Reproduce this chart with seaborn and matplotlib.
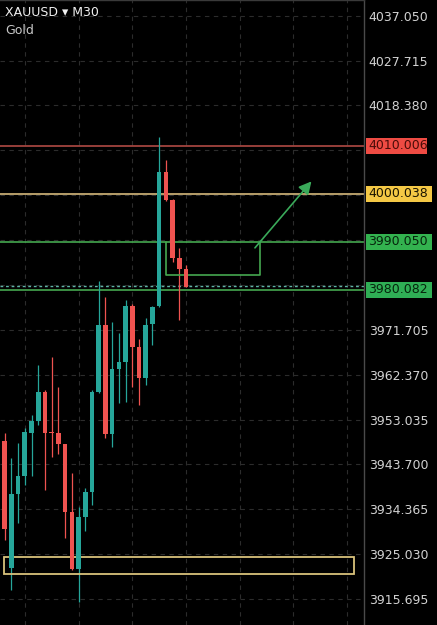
import matplotlib
matplotlib.use("Agg")
import matplotlib.pyplot as plt
import matplotlib.transforms as mtransforms
from matplotlib.patches import Rectangle, FancyArrowPatch
import numpy as np
import pandas as pd
import seaborn as sns

# ---------------- data ----------------
opens = [3948.58, 3922.22, 3937.49, 3941.30, 3950.30, 3952.80, 3958.83, 3950.45,
         3950.24, 3947.95, 3933.87, 3921.89, 3932.83, 3938.03, 3958.83, 3972.71,
         3949.97, 3963.56, 3965.07, 3976.66, 3968.07, 3961.62, 3972.86, 3976.66,
         4004.47, 3998.71, 3986.71, 3984.29]
highs = [3950.24, 3945.04, 3948.16, 3951.28, 3953.99, 3964.39, 3959.19, 3966.11,
         3959.87, 3947.95, 3941.92, 3934.91, 3938.80, 3959.19, 3981.86, 3978.53,
         3973.39, 3971.04, 3977.91, 3977.07, 3969.73, 3974.10, 3976.66, 4011.88,
         4006.97, 3998.92, 3988.66, 3985.19]
lows = [3927.98, 3917.58, 3931.52, 3939.42, 3941.30, 3951.91, 3938.38, 3945.31,
        3945.87, 3928.40, 3921.74, 3915.09, 3929.85, 3935.26, 3958.56, 3949.20,
        3947.39, 3956.48, 3956.75, 3959.87, 3956.07, 3960.23, 3968.55, 3976.55,
        3998.50, 3985.81, 3973.75, 3980.61]
closes = [3930.27, 3937.49, 3941.30, 3950.45, 3952.80, 3958.83, 3950.30, 3950.24,
          3947.95, 3933.87, 3921.89, 3932.83, 3938.03, 3958.83, 3972.71, 3949.97,
          3963.56, 3965.07, 3976.66, 3968.07, 3961.62, 3972.71, 3976.51, 4004.47,
          3998.71, 3986.71, 3984.29, 3980.67]

tick_values = [3915.695, 3925.030, 3934.365, 3943.700, 3953.035, 3962.370, 3971.705,
               3981.040, 3990.375, 3999.710, 4009.045, 4018.380, 4027.715, 4037.050]
# labels hidden behind the price tags are left empty
tick_labels = ["3915.695", "3925.030", "3934.365", "3943.700", "3953.035", "3962.370",
               "3971.705", "", "", "", "", "4018.380", "4027.715", "4037.050"]
vgrid_bars = [3, 11, 19, 27, 35, 43, 51]

level_prices = [4010.006, 4000.038, 3990.050, 3980.082]
level_labels = ["4010.006", "4000.038", "3990.050", "3980.082"]
level_line_colors = ["#b04a44", "#d6b97c", "#45a850", "#45a850"]
level_tag_colors = ["#ee4b43", "#f4c845", "#33b24f", "#2fae55"]
level_text_colors = ["#4a0c08", "#1a1400", "#06240c", "#06240c"]
level_tag_right = [427, 432, 432, 432]

last_price = 3980.72

zone_bars = [-0.1, 52.05]          # yellow demand zone
zone_prices = [3920.91, 3924.51]
box_bars = [24.0, 38.0]            # green box
box_prices = [3983.11, 3990.05]
arrow_bars = [37.0, 45.95]
arrow_prices = [3988.31, 4003.02]

title_main = "XAUUSD \u25BE M30"
title_sub = "Gold"

# ---------------- style ----------------
sns.set_theme(style="dark", rc={
    "axes.facecolor": "#000000",
    "figure.facecolor": "#000000",
    "axes.edgecolor": "#4a4a4a",
    "text.color": "#d8d8d8",
    "ytick.color": "#d0d0d0",
    "xtick.color": "#d0d0d0",
})
plt.rcParams["font.family"] = ["DejaVu Sans"]

W, H = 437, 625
fig = plt.figure(figsize=(W / 100, H / 100), dpi=100)
ax_right_px = 364
ax = fig.add_axes([0, 0, ax_right_px / W, 1])

df = pd.DataFrame({"open": opens, "high": highs, "low": lows, "close": closes})
df["bar"] = np.arange(len(df))
df["up"] = df["close"] >= df["open"]
up_col, dn_col = "#26a69a", "#ef5350"
cols = np.where(df["up"], up_col, dn_col)

# y limits so that price maps to pixels as in reference
px_per_unit = 4.807
y_top = 4037.050 + 15.7 / px_per_unit
y_bot = y_top - H / px_per_unit
x0 = -0.70
x1 = x0 + ax_right_px / 6.715
ax.set_xlim(x0, x1)
ax.set_ylim(y_bot, y_top)

# grid
ax.set_xticks(vgrid_bars)
ax.set_xticklabels([])
ax.set_yticks(tick_values)
ax.set_yticklabels(tick_labels)
ax.yaxis.tick_right()
ax.tick_params(axis="both", length=0)
ax.tick_params(axis="y", pad=3.5, labelsize=9, labelcolor="#d2d2d2")
ax.grid(True, color="#2c2c2c", linestyle=(0, (4, 4)), linewidth=0.8)
ax.set_axisbelow(True)
for s in ["left", "bottom"]:
    ax.spines[s].set_visible(False)
ax.spines["right"].set_color("#4a4a4a")
ax.spines["top"].set_color("#3a3a3a")
ax.spines["right"].set_linewidth(1.0)
ax.spines["top"].set_linewidth(1.0)

# candles: wicks + bodies
ax.vlines(df["bar"], df["low"], df["high"], colors=cols, linewidth=0.9, zorder=3)
heights = (df["close"] - df["open"]).to_numpy()
heights = np.where(np.abs(heights) < 0.25, np.sign(heights + 1e-9) * 0.25, heights)
ax.bar(df["bar"], heights, bottom=df["open"], width=0.7, color=cols,
       linewidth=0, zorder=4)

# levels
for p, lc in zip(level_prices, level_line_colors):
    ax.axhline(p, color=lc, linewidth=1.2, zorder=2)
ax.axhline(last_price, color="#5fb3a6", linewidth=1.0, linestyle=(0, (2, 2)), zorder=2)

# yellow zone
ax.add_patch(Rectangle((zone_bars[0], zone_prices[0]), zone_bars[1] - zone_bars[0],
                       zone_prices[1] - zone_prices[0], fill=False,
                       edgecolor="#d9c27c", linewidth=1.3, zorder=3))
# green box (top edge sits on 3990 level)
ax.plot([box_bars[0], box_bars[0], box_bars[1], box_bars[1]],
        [box_prices[1], box_prices[0], box_prices[0], box_prices[1]],
        color="#45a850", linewidth=1.2, zorder=3)
# arrow
ax.add_patch(FancyArrowPatch((arrow_bars[0], arrow_prices[0]), (arrow_bars[1], arrow_prices[1]),
                             arrowstyle="-|>,head_length=5,head_width=2.6",
                             color="#3aaa5a", linewidth=1.2, zorder=5,
                             mutation_scale=1.5))

# price tags on the right axis
trans = mtransforms.blended_transform_factory(ax.transAxes, ax.transData)
tag_h = 16 / px_per_unit
for p, lab, tc, txc, right in zip(level_prices, level_labels, level_tag_colors,
                                  level_text_colors, level_tag_right):
    xl = 366 / ax_right_px
    w = (right - 366) / ax_right_px
    ax.add_patch(Rectangle((xl, p - tag_h / 2), w, tag_h, transform=trans,
                           facecolor=tc, edgecolor="none", clip_on=False, zorder=10))
    ax.text(368 / ax_right_px, p, lab, transform=trans, ha="left", va="center",
            fontsize=9, color=txc, clip_on=False, zorder=11)

# title
fig.text(5 / W, 1 - 16 / H, title_main, fontsize=9, color="#f0f0f0", ha="left",
         va="baseline", fontweight="medium")
fig.text(5 / W, 1 - 34 / H, title_sub, fontsize=9, color="#c8c8c8", ha="left",
         va="baseline")

fig.savefig("out.png", dpi=100, facecolor="#000000")
